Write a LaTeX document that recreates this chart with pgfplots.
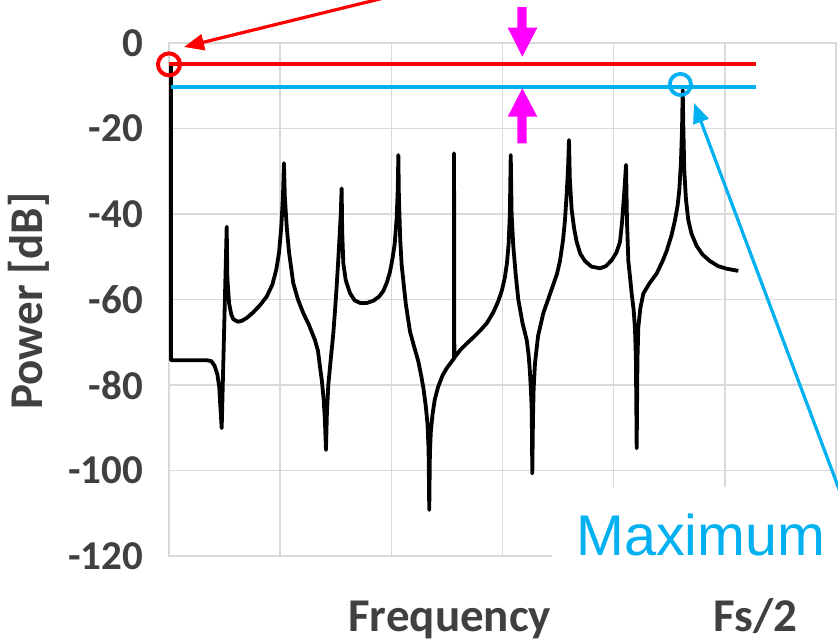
\documentclass[border=0pt]{standalone}
\usepackage{pgfplots}
\pgfplotsset{compat=1.18}
\usepackage{fontspec}
\setmainfont{Carlito}
\newfontfamily\maxfont{Liberation Sans}
\usetikzlibrary{arrows.meta}
\definecolor{gridgray}{HTML}{D9D9D9}
\definecolor{textgray}{HTML}{404040}
\definecolor{exred}{HTML}{FF0000}
\definecolor{excyan}{HTML}{00B0F0}
\definecolor{exmag}{HTML}{FF00FF}
\begin{document}
\begin{tikzpicture}
\useasboundingbox (0,0) rectangle (419pt,-319.5pt);
\begin{axis}[
    at={(84.5pt,-278pt)}, anchor=south west,
    scale only axis, width=333.5pt, height=256.5pt,
    xmin=0, xmax=6, ymin=-120, ymax=0,
    xtick={0,...,6}, xticklabels={},
    ytick={-120,-100,...,0},
    grid=major,
    grid style={draw=gridgray, line width=0.8pt},
    axis line style={draw=gridgray, line width=0.8pt},
    major tick length=0pt,
    /pgf/number format/assume math mode=true,
    yticklabel style={font=\bfseries\fontsize{20.5}{22}\selectfont, text=textgray, xshift=-9.5pt},
    clip=false,
]
% spectrum
\addplot[black, line width=1.9pt, line join=round] coordinates {
(0.018,-5.1) (0.018,-74.2) (0.339,-74.2) (0.38,-74.4) (0.41,-75.5) (0.435,-77.5)
(0.452,-80.5) (0.462,-85) (0.474,-90.1) (0.519,-43)
(0.525,-55) (0.540,-60.8) (0.56,-63.5) (0.578,-64.6) (0.62,-65.2) (0.654,-65)
(0.70,-64.3) (0.758,-63) (0.82,-61.3) (0.879,-59.3) (0.93,-56.5) (0.965,-53)
(0.99,-49) (1.01,-43) (1.025,-36) (1.034,-28.1)
(1.042,-36) (1.059,-43) (1.08,-49) (1.118,-56.2) (1.16,-60) (1.208,-63.2)
(1.26,-66) (1.313,-69.5) (1.34,-72) (1.358,-75.7) (1.375,-79) (1.39,-83)
(1.402,-88) (1.412,-95.2)
(1.42,-87) (1.433,-80) (1.455,-74) (1.478,-67.9) (1.495,-62) (1.508,-57)
(1.522,-51) (1.535,-45) (1.545,-40) (1.553,-34)
(1.558,-44) (1.568,-51.5) (1.59,-55.5) (1.628,-58.5) (1.67,-60.2) (1.718,-60.8)
(1.78,-60.8) (1.838,-60.3) (1.89,-59.3) (1.928,-58) (1.96,-56) (1.988,-53.5)
(2.01,-50.5) (2.03,-47) (2.048,-41) (2.058,-34) (2.063,-26.2)
(2.068,-36) (2.08,-46) (2.093,-52) (2.13,-61) (2.168,-67.5) (2.21,-71.5)
(2.243,-74.5) (2.27,-78) (2.29,-81) (2.31,-85) (2.325,-89) (2.335,-95)
(2.341,-109.2)
(2.347,-96) (2.355,-91) (2.37,-87) (2.39,-83.5) (2.42,-80.5) (2.46,-77.8)
(2.50,-76) (2.543,-74.5) (2.564,-73.8) (2.564,-25.8) (2.567,-73.6)
(2.62,-71.8) (2.678,-70.3) (2.74,-68.8) (2.798,-67.3) (2.86,-65.5) (2.917,-63)
(2.96,-60.5) (2.993,-58) (3.02,-55) (3.04,-51.5) (3.055,-47) (3.066,-40)
(3.074,-26.2)
(3.082,-40) (3.097,-47.5) (3.12,-54.5) (3.142,-60) (3.18,-65.5) (3.218,-69.5)
(3.235,-73) (3.247,-77) (3.257,-82) (3.263,-86) (3.268,-100.7)
(3.274,-88) (3.28,-81) (3.292,-75) (3.32,-68.5) (3.367,-63.2) (3.41,-60)
(3.457,-56.5) (3.49,-54) (3.517,-51) (3.545,-46) (3.562,-41.4) (3.578,-35)
(3.59,-29) (3.598,-22.7)
(3.606,-32) (3.622,-39) (3.645,-43.5) (3.667,-46.5) (3.70,-49.3) (3.742,-51)
(3.80,-52.3) (3.877,-52.7) (3.93,-52.2) (3.982,-50.8) (4.025,-49) (4.057,-46.5)
(4.075,-42) (4.095,-35) (4.111,-28.5)
(4.12,-42) (4.132,-51) (4.148,-55) (4.162,-58.6) (4.18,-62.5) (4.192,-67)
(4.20,-74) (4.207,-94.8)
(4.214,-74) (4.222,-66.4) (4.24,-62) (4.267,-58.6) (4.32,-56.3) (4.387,-53.9)
(4.44,-51) (4.477,-48.6) (4.52,-45) (4.552,-41.4) (4.575,-38) (4.59,-34.5)
(4.605,-28) (4.615,-20) (4.621,-11)
(4.627,-20) (4.635,-29.7) (4.65,-36.5) (4.671,-41.4) (4.70,-44.6) (4.747,-47.5)
(4.80,-49.5) (4.866,-51) (4.94,-52.2) (5.017,-52.8) (5.121,-53.3)
};
% levels
\addplot[exred, line width=2pt] coordinates {(0,-4.8) (5.28,-4.8)};
\addplot[excyan, line width=1.8pt] coordinates {(0.018,-10.3) (5.28,-10.3)};
\addplot[only marks, mark=o, mark size=5.5pt, exred, mark options={line width=2pt}] coordinates {(0,-5)};
\addplot[only marks, mark=o, mark size=5.3pt, excyan, mark options={line width=1.9pt}] coordinates {(4.60,-9.7)};
\end{axis}
\begin{scope}[x=0.5pt, y=-0.5pt]
  \fill[white] (552,487) rectangle (845,645);
  \node[anchor=base west, inner sep=0, text=excyan, font=\maxfont\fontsize{28.7}{30}\selectfont] at (576,555) {Maximum};
  \node[anchor=base west, inner sep=0, text=textgray, font=\bfseries\fontsize{23.5}{26}\selectfont] at (348,631) {Frequency};
  \node[anchor=base west, inner sep=0, text=textgray, font=\bfseries\fontsize{23.5}{26}\selectfont] at (713,631) {Fs/2};
  \node[rotate=90, inner sep=0, text=textgray, font=\bfseries\fontsize{23.5}{26}\selectfont] at (29,301) {Power [dB]};
  % arrows
  \draw[exred, line width=1.6pt, -{Triangle[length=10pt, width=8pt]}] (400,-6) -- (184,47);
  \draw[excyan, line width=1.6pt, -{Triangle[length=10pt, width=8pt]}] (845,505) -- (694,103);
  \fill[exmag] (517.3,7)--(526.7,7)--(526.7,27.7)--(537.3,27.7)--(522.3,56.7)--(507.7,27.7)--(517.3,27.7)--cycle;
  \fill[exmag] (522.3,88.3)--(537.3,116.7)--(526.7,116.7)--(526.7,143.3)--(517.3,143.3)--(517.3,116.7)--(507.7,116.7)--cycle;
\end{scope}
\end{tikzpicture}
\end{document}
